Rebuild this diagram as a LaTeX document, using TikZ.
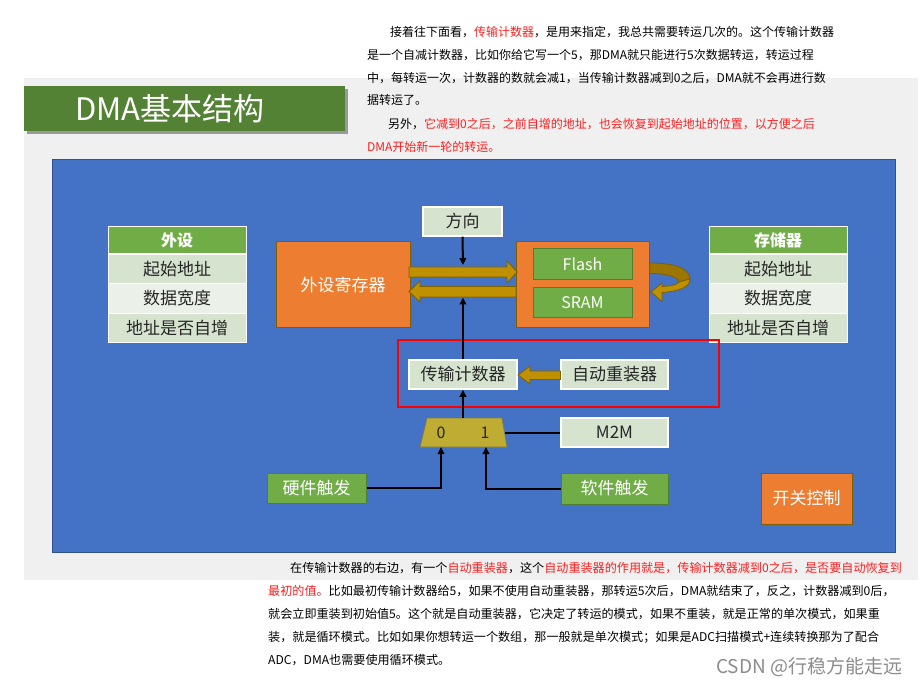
\documentclass[tikz,border=0pt]{standalone}
\usepackage{fontspec}
\setmainfont{Noto Sans CJK SC}
\usetikzlibrary{arrows.meta}
\definecolor{bgblue}{HTML}{4472C4}
\definecolor{bdblue}{HTML}{2F528F}
\definecolor{orng}{HTML}{ED7D31}
\definecolor{orngbd}{HTML}{7F6000}
\definecolor{grn}{HTML}{70AD47}
\definecolor{grnbd}{HTML}{507E32}
\definecolor{titlegrn}{HTML}{548235}
\definecolor{gold}{HTML}{BF9000}
\definecolor{golddk}{HTML}{9C7600}
\definecolor{goldbd}{HTML}{7F6000}
\definecolor{lightg}{HTML}{D5E3CF}
\definecolor{lighter}{HTML}{EBF1E9}
\definecolor{muxc}{HTML}{BFAC33}
\definecolor{muxbd}{HTML}{7F7A50}
\definecolor{pagegray}{HTML}{F0F0F0}
\definecolor{txtred}{HTML}{FF1F1F}
\definecolor{txtdark}{HTML}{262626}
\tikzset{
  para/.style={anchor=west, inner sep=0pt, font=\fontsize{12}{12}\selectfont, text height=10.5pt, text depth=1.5pt, text=black},
  parb/.style={anchor=west, inner sep=0pt, font=\fontsize{12.1}{12.1}\selectfont, text height=10.6pt, text depth=1.5pt, text=black},
  cellhead/.style={fill=grn, draw=white, line width=1pt, minimum width=138pt, minimum height=27pt, inner sep=0pt, text=white, font=\fontsize{16}{16}\selectfont\bfseries},
  cell/.style={draw=white, line width=1pt, minimum width=138pt, minimum height=29.5pt, inner sep=0pt, text=txtdark, font=\fontsize{17}{17}\selectfont},
  lbox/.style={fill=lightg, draw=white, line width=1.5pt, inner sep=0pt, text=txtdark, font=\fontsize{17}{17}\selectfont},
  gbox/.style={fill=grn, draw=grnbd, line width=1pt, inner sep=0pt, text=white, font=\fontsize{17}{17}\selectfont},
  obox/.style={fill=orng, draw=orngbd, line width=1pt, inner sep=0pt, text=white, font=\fontsize{17}{17}\selectfont},
  wire/.style={line width=2pt, black},
  wirearrow/.style={wire, -{Triangle[length=7pt,width=6.5pt]}},
  blockarrow/.style={fill=gold, draw=goldbd, line width=0.8pt, line join=miter}
}
\begin{document}
\begin{tikzpicture}[x=1pt,y=-1pt]
\useasboundingbox (0,0) rectangle (922,687);
\fill[white] (0,0) rectangle (922,687);
% gray panel
\fill[pagegray] (24,78) rectangle (918,580);
% title
\fill[black!40] (27,89) rectangle (348,134);
\fill[titlegrn] (24,86) rectangle (345,131);
\node[text=white, font=\fontsize{31}{31}\selectfont, inner sep=0pt] (title) at (170,108.5) {DMA基本结构};
% top paragraph
\node[para] (t1) at (390,32) {接着往下面看，\textcolor{txtred}{传输计数器}，是用来指定，我总共需要转运几次的。这个传输计数器};
\node[para] (t2) at (367,55) {是一个自减计数器，比如你给它写一个5，那DMA就只能进行5次数据转运，转运过程};
\node[para] (t3) at (367,78) {中，每转运一次，计数器的数就会减1，当传输计数器减到0之后，DMA就不会再进行数};
\node[para] (t4) at (367,100) {据转运了。};
\node[para] (t5) at (388,124) {另外，\textcolor{txtred}{它减到0之后，之前自增的地址，也会恢复到起始地址的位置，以方便之后}};
\node[para, text=txtred] (t6) at (367,147) {DMA开始新一轮的转运。};
% blue panel
\draw[fill=bgblue, draw=bdblue, line width=1pt] (52,160) rectangle (895,552);
% peripheral table
\node[cellhead] (ph) at (177,240.5) {外设};
\node[cell, fill=lightg] (p1) at (177,269) {起始地址};
\node[cell, fill=lighter] (p2) at (177,298.5) {数据宽度};
\node[cell, fill=lightg] (p3) at (177,328) {地址是否自增};
% memory table
\node[cellhead] (mh) at (778,240.5) {存储器};
\node[cell, fill=lightg] (m1) at (778,269) {起始地址};
\node[cell, fill=lighter] (m2) at (778,298.5) {数据宽度};
\node[cell, fill=lightg] (m3) at (778,328) {地址是否自增};
% registers
\node[obox, minimum width=134pt, minimum height=86pt] (reg) at (343,285) {外设寄存器};
\node[obox, minimum width=133pt, minimum height=86pt] (mem) at (582.5,285) {};
\node[gbox, minimum width=99pt, minimum height=31pt, font=\fontsize{16}{16}\selectfont] (flash) at (582.5,264.5) {Flash};
\node[gbox, minimum width=99pt, minimum height=30pt, font=\fontsize{16}{16}\selectfont] (sram) at (582.5,303) {SRAM};
\node[lbox, minimum width=79pt, minimum height=29pt] (dir) at (462.5,221.5) {方向};
% block arrows reg <-> mem
\draw[blockarrow] (409,267) -- (507,267) -- (507,261) -- (517,272) -- (507,283) -- (507,277) -- (409,277) -- cycle;
\draw[blockarrow] (516,286.5) -- (420,286.5) -- (420,281) -- (409,291.5) -- (420,302) -- (420,297) -- (516,297) -- cycle;
% curved arrow
\draw[fill=golddk, draw=goldbd, line width=0.8pt] (650,263) .. controls (676,263) and (690,269) .. (690,279)
  -- (679,282) .. controls (678,277) and (668,273.5) .. (650,273.5) -- cycle;
\draw[blockarrow] (690,279) .. controls (690,287) and (680,291) .. (662,292.5)
  -- (662,301.5) -- (651,292) -- (662,283) -- (662,286.5) .. controls (671,286) and (678,284.5) .. (679,282) -- cycle;
% red frame
\draw[draw=red, line width=2.8pt] (398,340) rectangle (719,407);
% counter / reload
\node[lbox, minimum width=108pt, minimum height=29pt] (cnt) at (463,374.5) {传输计数器};
\node[lbox, minimum width=107pt, minimum height=29pt] (rld) at (614.5,374.5) {自动重装器};
\draw[blockarrow] (560.5,371) -- (530,371) -- (530,366) -- (518,375) -- (530,384) -- (530,379.5) -- (560.5,379.5) -- cycle;
% mux
\draw[fill=muxc, draw=muxbd, line width=0.8pt] (427,418) -- (502,418) -- (507,447) -- (420,447) -- cycle;
\coordinate (muxtop) at (463,418);
\coordinate (mux0) at (441,447);
\coordinate (mux1) at (486,447);
\coordinate (muxr) at (505,432.5);
\node[inner sep=0pt, text=txtdark, font=\fontsize{16}{16}\selectfont] (l0) at (441,432.5) {0};
\node[inner sep=0pt, text=txtdark, font=\fontsize{16}{16}\selectfont] (l1) at (485,432.5) {1};
\node[lbox, minimum width=107pt, minimum height=29pt] (m2m) at (614.5,432.5) {M2M};
\node[gbox, minimum width=99pt, minimum height=30pt] (hw) at (316.5,488) {硬件触发};
\node[gbox, minimum width=107pt, minimum height=31pt] (sw) at (614.5,488.5) {软件触发};
\node[obox, minimum width=91pt, minimum height=51pt] (sc) at (806.5,498.5) {开关控制};
% wires
\coordinate (dirend) at (463,265);
\coordinate (cntend) at (463,297.5);
\draw[wirearrow] (dir.south) -- (dirend);
\draw[wirearrow] (cnt.north) -- (cntend);
\draw[wirearrow] (muxtop) -- (cnt.south);
\draw[wirearrow] (hw.east) -| (mux0);
\draw[wirearrow] (sw.west) -| (mux1);
\draw[wire] (muxr) -- (m2m.west);
% bottom paragraph
\node[parb] (b1) at (290,568) {在传输计数器的右边，有一个\textcolor{txtred}{自动重装器}，这个\textcolor{txtred}{自动重装器的作用就是，传输计数器减到0之后，是否要自动恢复到}};
\node[parb] (b2) at (268,591) {\textcolor{txtred}{最初的值。}比如最初传输计数器给5，如果不使用自动重装器，那转运5次后，DMA就结束了，反之，计数器减到0后，};
\node[parb] (b3) at (268,614) {就会立即重装到初始值5。这个就是自动重装器，它决定了转运的模式，如果不重装，就是正常的单次模式，如果重};
\node[parb] (b4) at (268,637) {装，就是循环模式。比如如果你想转运一个数组，那一般就是单次模式；如果是ADC扫描模式+连续转换那为了配合};
\node[parb] (b5) at (268,660) {ADC，DMA也需要使用循环模式。};
% watermark
\node[anchor=west, inner sep=0pt, text=black!45, font=\fontsize{19}{19}\selectfont] (wm) at (716,667) {CSDN @行稳方能走远};
\end{tikzpicture}
\end{document}
